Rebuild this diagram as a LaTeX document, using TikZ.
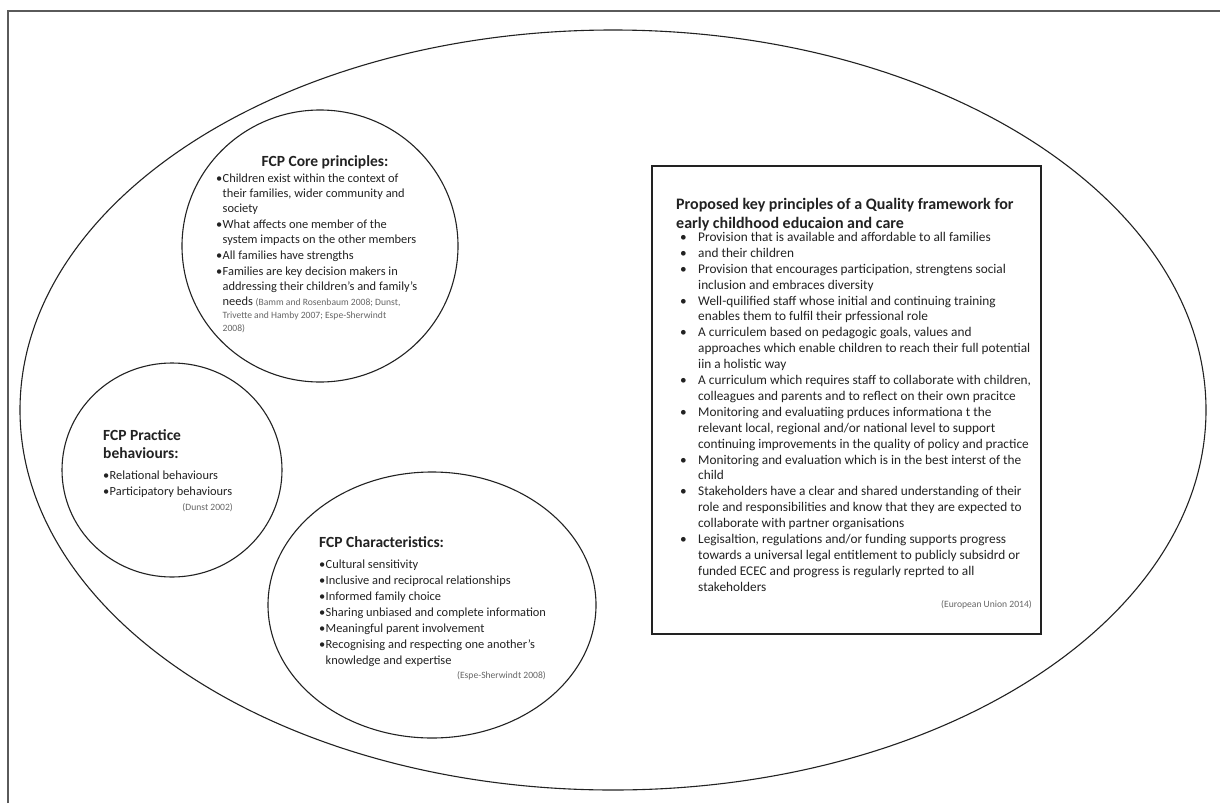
\documentclass[tikz,border=0pt]{standalone}
\usepackage{fontspec}
\setmainfont{Carlito}
\usetikzlibrary{positioning}
\definecolor{inkgray}{HTML}{222222}
\definecolor{notegray}{HTML}{666666}
\definecolor{framegray}{HTML}{5A5A5A}
\newcommand\blt{\makebox[6.5pt][l]{\textbullet}}
\newcommand\indt{\hspace*{6.5pt}}
\newcommand\bbl{\makebox[18pt][l]{\textbullet}}
\newcommand\bind{\hspace*{18pt}}
\newcommand\srcnote{\fontsize{9.6}{12}\selectfont\color{notegray}}
\tikzset{
  ring/.style={draw=inkgray, line width=1.1pt},
  head/.style={inner sep=0pt, font=\fontsize{15.5}{18.3}\selectfont\bfseries, text=inkgray, align=left},
  list/.style={inner sep=0pt, font=\fontsize{12.4}{16}\selectfont, text=inkgray, align=left},
  note/.style={inner sep=0pt, font=\fontsize{9.6}{12}\selectfont, text=notegray},
}
\begin{document}
\begin{tikzpicture}[x=1pt, y=-1pt]
        \useasboundingbox (0,0) rectangle (1220,803);
        \fill[white] (0,0) rectangle (1220,803);
        \draw[framegray, line width=1.4pt] (8,803) -- (8,11) -- (1220,11);
        % outer ring and the three circles
        \draw[ring] (613,410) ellipse (593 and 380);
        \draw[ring] (320,246) ellipse (138 and 136);
        \draw[ring] (172,470) ellipse (110 and 107);
        \draw[ring] (432,605) ellipse (164 and 133);
        \draw[inkgray, line width=1.2pt] (652,166) rectangle (1041,634);

        \node[head, anchor=center] (coretitle) at (325,162) {FCP Core principles:};
        \node[list, anchor=north west, font=\fontsize{12.4}{15}\selectfont] (corelist) at (216,174) {%
            \blt Children exist within the context of\\
            \indt their families, wider community and\\
            \indt society\\[1pt]
            \blt What affects one member of the\\
            \indt system impacts on the other members\\[1pt]
            \blt All families have strengths\\[1pt]
            \blt Families are key decision makers in\\
            \indt addressing their children’s and family’s\\
            \indt needs {\srcnote (Bamm and Rosenbaum 2008; Dunst,}\\[-2pt]
            \indt {\srcnote Trivette and Hamby 2007; Espe-Sherwindt}\\[-2pt]
            \indt {\srcnote 2008)}};

        \node[head, anchor=north west] (practitle) at (103,429.5) {FCP Practice\\behaviours:};
        \node[list, anchor=north west] (praclist) at (103,471) {%
            \blt Relational behaviours\\
            \blt Participatory behaviours};
        \node[note, anchor=north east] (pracnote) at (233,503) {(Dunst 2002)};

        \node[head, anchor=west] (chartitle) at (319,542) {FCP Characteristics:};
        \node[list, anchor=north west] (charlist) at (319,559.7) {%
            \blt Cultural sensitivity\\
            \blt Inclusive and reciprocal relationships\\
            \blt Informed family choice\\
            \blt Sharing unbiased and complete information\\
            \blt Meaningful parent involvement\\
            \blt Recognising and respecting one another’s\\
            \indt knowledge and expertise};
        \node[note, anchor=north east] (charnote) at (546,671.5) {(Espe-Sherwindt 2008)};

        % quality framework box
        \node[head, anchor=north west, font=\fontsize{16}{18.5}\selectfont\bfseries] (boxtitle) at (676,198.5) {Proposed key principles of a Quality framework for\\early childhood educaion and care};
        \node[list, anchor=north west, font=\fontsize{13.3}{15.9}\selectfont] (boxlist) at (680,232) {%
            \bbl Provision that is available and affordable to all families\\
            \bbl and their children\\
            \bbl Provision that encourages participation, strengtens social\\
            \bind inclusion and embraces diversity\\
            \bbl Well-quilified staff whose initial and continuing training\\
            \bind enables them to fulfil their prfessional role\\
            \bbl A curriculem based on pedagogic goals, values and\\
            \bind approaches which enable children to reach their full potential\\
            \bind iin a holistic way\\
            \bbl A curriculum which requires staff to collaborate with children,\\
            \bind colleagues and parents and to reflect on their own pracitce\\
            \bbl Monitoring and evaluatiing prduces informationa t the\\
            \bind relevant local, regional and/or national level to support\\
            \bind continuing improvements in the quality of policy and practice\\
            \bbl Monitoring and evaluation which is in the best interst of the\\
            \bind child\\
            \bbl Stakeholders have a clear and shared understanding of their\\
            \bind role and responsibilities and know that they are expected to\\
            \bind collaborate with partner organisations\\
            \bbl Legisaltion, regulations and/or funding supports progress\\
            \bind towards a universal legal entitlement to publicly subsidrd or\\
            \bind funded ECEC and progress is regularly reprted to all\\
            \bind stakeholders};
        \node[note, anchor=north east] (boxnote) at (1032,600) {(European Union 2014)};
    \end{tikzpicture}
\end{document}
